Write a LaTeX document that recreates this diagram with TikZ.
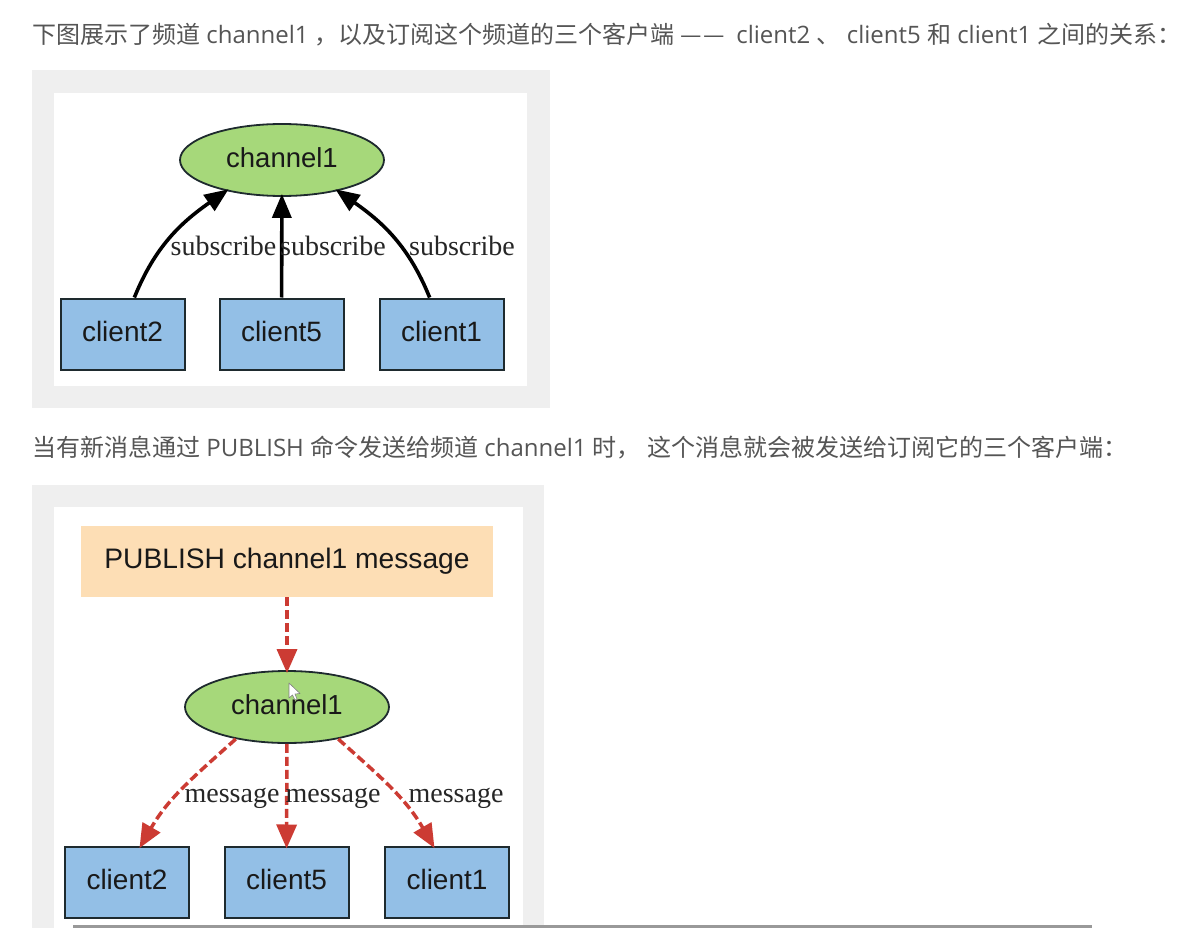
\documentclass[tikz,border=0pt]{standalone}
\usepackage{fontspec}
\setmainfont{Open Sans}
\newfontfamily\cjk{Noto Sans CJK SC}
\newfontfamily\boxfont{Liberation Sans}
\newfontfamily\lblfont{Liberation Serif}
\usetikzlibrary{shapes.geometric,arrows.meta}
\definecolor{panelgray}{HTML}{EFEFEF}
\definecolor{chanfill}{HTML}{A6D87A}
\definecolor{clientfill}{HTML}{93BFE6}
\definecolor{pubfill}{HTML}{FDDEB5}
\definecolor{msgred}{HTML}{CC3B33}
\definecolor{edgedark}{HTML}{1E2A2E}
\definecolor{bodytext}{HTML}{555555}
\definecolor{barskin}{HTML}{999999}
\tikzset{
  prose/.style={anchor=west, inner sep=0pt, text=bodytext, font=\fontsize{24}{27}\selectfont},
  chan/.style={draw=edgedark, line width=1.8pt, ellipse, fill=chanfill, inner sep=0pt,
    minimum width=204pt, minimum height=72pt, text height=22pt, text depth=7.5pt,
    text=black!90, font=\boxfont\fontsize{27.5}{30}\selectfont},
  client/.style={draw=edgedark, line width=2pt, fill=clientfill, inner sep=0pt,
    minimum width=124pt, minimum height=71pt, text height=22pt, text depth=7.5pt,
    text=black!90, font=\boxfont\fontsize{28}{30}\selectfont},
  pubbox/.style={fill=pubfill, inner sep=0pt, minimum width=412pt, minimum height=71pt,
    text height=22pt, text depth=7.5pt,
    text=black!90, font=\boxfont\fontsize{28.2}{30}\selectfont},
  lbl/.style={inner sep=0pt, text=black!85, font=\lblfont\fontsize{28}{30}\selectfont},
  subarrow/.style={->, >={Triangle[length=24pt,width=19pt]}, line width=3.6pt, black, shorten >=-3pt},
  msgarrow/.style={->, >={Triangle[length=24pt,width=20pt]}, line width=3.5pt, msgred,
    dash pattern=on 9pt off 4pt, shorten >=-3pt},
}
\begin{document}
\begin{tikzpicture}[x=1pt,y=-1pt]
  \useasboundingbox (0,0) rectangle (1200,928);
  \fill[white] (0,0) rectangle (1200,928);

  % Prose lines
  \node[prose] (LineA) at (32,35) {{\cjk 下图展示了频道} channel1 {\cjk ，以及订阅这个频道的三个客户端 —\kern2pt—\kern5pt} client2 {\cjk 、} client5 {\cjk 和} client1 {\cjk 之间的关系：}};
  \node[prose] (LineB) at (32,448) {{\cjk 当有新消息通过} PUBLISH {\cjk 命令发送给频道} channel1 {\cjk 时，} {\cjk 这个消息就会被发送给订阅它的三个客户端：}};

  % Panels
  \fill[panelgray] (32,70) rectangle (550,408);
  \fill[white] (54,93) rectangle (527,386);
  \fill[panelgray] (32,485) rectangle (544,928);
  \fill[white] (54,507) rectangle (523,928);

  % Subscribe nodes
  \node[chan] (ChanA) at (282,160) {channel1};
  \node[client] (TwoA) at (122.5,334) {client2};
  \node[client] (FiveA) at (281.5,334) {client5};
  \node[client] (OneA) at (441.5,334) {client1};

  % Subscribe arrows
  \draw[subarrow] (TwoA.72) to[out=68,in=215] (ChanA.209);
  \draw[subarrow] (FiveA) -- (ChanA);
  \draw[subarrow] (OneA.108) to[out=112,in=-35] (ChanA.331);

  \node[lbl] (SubA) at (223.5,246) {subscribe};
  \node[lbl] (SubB) at (333,246) {subscribe};
  \node[lbl] (SubC) at (462,246) {subscribe};

  % Publish nodes
  \node[pubbox] (Pub) at (287,561.5) {PUBLISH channel1 message};
  \node[chan] (ChanB) at (287,707) {channel1};
  \node[client] (TwoB) at (127,882) {client2};
  \node[client] (FiveB) at (286.5,882) {client5};
  \node[client] (OneB) at (447,882) {client1};

  % Publish arrows
  \draw[msgarrow] (Pub) -- (ChanB);
  \draw[msgarrow] (ChanB.212) to[out=222,in=60] (TwoB.69);
  \draw[msgarrow] (ChanB) -- (FiveB);
  \draw[msgarrow] (ChanB.328) to[out=-42,in=120] (OneB.111);

  \node[lbl] (MsgA) at (232,798) {message};
  \node[lbl] (MsgB) at (333,798) {message};
  \node[lbl] (MsgC) at (456,798) {message};

  % Mouse cursor
  \draw[gray, fill=white, line width=.6pt, line join=round] (289,683) -- (289,698) -- (292.5,695) -- (295,700) -- (297,699) -- (295,694) -- (300,693.5) -- cycle;

  % Scrollbar
  \fill[barskin] (73,925) rectangle (1092,928);
\end{tikzpicture}
\end{document}
